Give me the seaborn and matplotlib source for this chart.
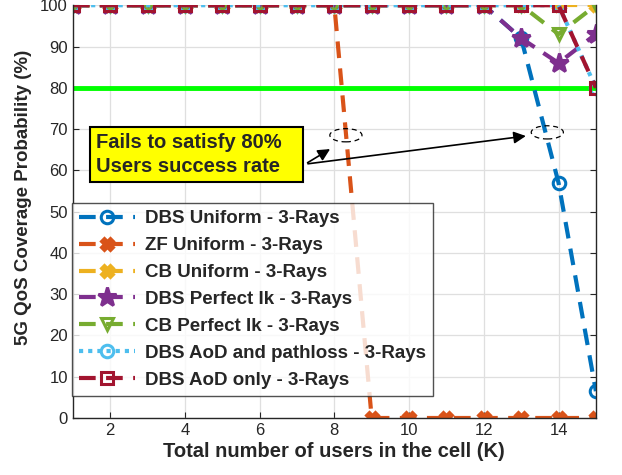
import numpy as np
import pandas as pd
import matplotlib
matplotlib.use("Agg")
import matplotlib.pyplot as plt
import seaborn as sns
from matplotlib.patches import Ellipse

K = list(range(1, 16))

dbs_uniform = [100] * 12 + [92, 57, 6.5]
zf_uniform = [100] * 8 + [0] * 7
cb_uniform = [100] * 15
dbs_perfect = [100] * 12 + [92, 86, 93]
cb_perfect = [100] * 13 + [93, 100]
dbs_aod_pl = [100] * 14 + [80]
dbs_aod = [100] * 14 + [80]

threshold = 80

series = [
    ("DBS Uniform - 3-Rays", dbs_uniform, "#0072BD", "o", "none", (4, 2.5)),
    ("ZF Uniform - 3-Rays", zf_uniform, "#D95319", "X", None, (4, 2.5)),
    ("CB Uniform - 3-Rays", cb_uniform, "#EDB120", "X", None, (4, 2.5)),
    ("DBS Perfect Ik - 3-Rays", dbs_perfect, "#7E2F8E", "*", None, (4, 2.5)),
    ("CB Perfect Ik - 3-Rays", cb_perfect, "#77AC30", "v", "none", (4, 2.5)),
    ("DBS AoD and pathloss - 3-Rays", dbs_aod_pl, "#4DBEEE", "o", "none", (1, 1.2)),
    ("DBS AoD only - 3-Rays", dbs_aod, "#A2142F", "s", "none", (4, 2.5)),
]

sns.set_style("whitegrid")
plt.rcParams["font.family"] = ["Liberation Sans", "DejaVu Sans"]

fig = plt.figure(figsize=(6.22, 4.75), dpi=100)
ax = fig.add_axes([0.117, 0.12, 0.841, 0.869])

for name, vals, col, mk, mfc, dash in series:
    kw = dict(markeredgewidth=2.2)
    if mfc is not None:
        kw["markerfacecolor"] = mfc
    ms = 14 if mk == "*" else 9
    sns.lineplot(x=K, y=vals, ax=ax, color=col, marker=mk, markersize=ms,
                 linewidth=3, label=name, dashes=False, **kw)
    ax.lines[-1].set_dashes(dash)
    ax.lines[-1].set_markeredgecolor(col)

ax.axhline(threshold, color="#00FF00", lw=3.5, zorder=1)

ax.set_xlim(1, 15)
ax.set_ylim(0, 100)
ax.set_xticks(range(2, 15, 2))
ax.set_yticks(range(0, 101, 10))
ax.tick_params(direction="in", length=4, labelsize=12, top=False, right=True,
               bottom=True, left=True, colors="#262626")
ax.grid(True, color="#DFDFDF", lw=0.9)
for s in ax.spines.values():
    s.set_color("#262626")
    s.set_linewidth(1)
ax.spines["top"].set_visible(False)

ax.set_xlabel("Total number of users in the cell (K)", fontsize=14.5,
              fontweight="bold", color="#262626", labelpad=3)
ax.set_ylabel("5G QoS Coverage Probability (%)", fontsize=13.5,
              fontweight="bold", color="#262626")
ax.yaxis.set_label_coords(-0.078, 0.535)

# annotation ellipses and arrows
for cx, cy in [(8.31, 68.5), (13.7, 69.2)]:
    ax.add_patch(Ellipse((cx, cy), 0.86, 3.2, fill=False, ls=(0, (4, 3)),
                         lw=0.9, color="black", zorder=6))
start = (7.22, 61.5)
ax.annotate("", xy=(7.95, 65.5), xytext=start,
            arrowprops=dict(arrowstyle="-|>", color="black", lw=1.2,
                            mutation_scale=18), zorder=6)
ax.annotate("", xy=(13.2, 68.4), xytext=start,
            arrowprops=dict(arrowstyle="-|>", color="black", lw=1.2,
                            mutation_scale=18), zorder=6)
ax.text(1.62, 63.9, "Fails to satisfy 80%\nUsers success rate   ", fontsize=14.5,
        fontweight="bold", va="center", ha="left", linespacing=1.35,
        bbox=dict(boxstyle="square,pad=0.3", fc="#FFFF00", ec="black", lw=1.5),
        zorder=7)

leg = ax.legend(loc="lower left", bbox_to_anchor=(-0.002, 0.053),
                prop={"weight": "bold", "size": 13.5}, frameon=True, fancybox=False,
                edgecolor="#262626", handlelength=3, labelspacing=0.52,
                borderpad=0.4, handletextpad=0.5, borderaxespad=0)
leg.get_frame().set_linewidth(1)
leg.set_zorder(8)

fig.savefig("out.png", dpi=100)
